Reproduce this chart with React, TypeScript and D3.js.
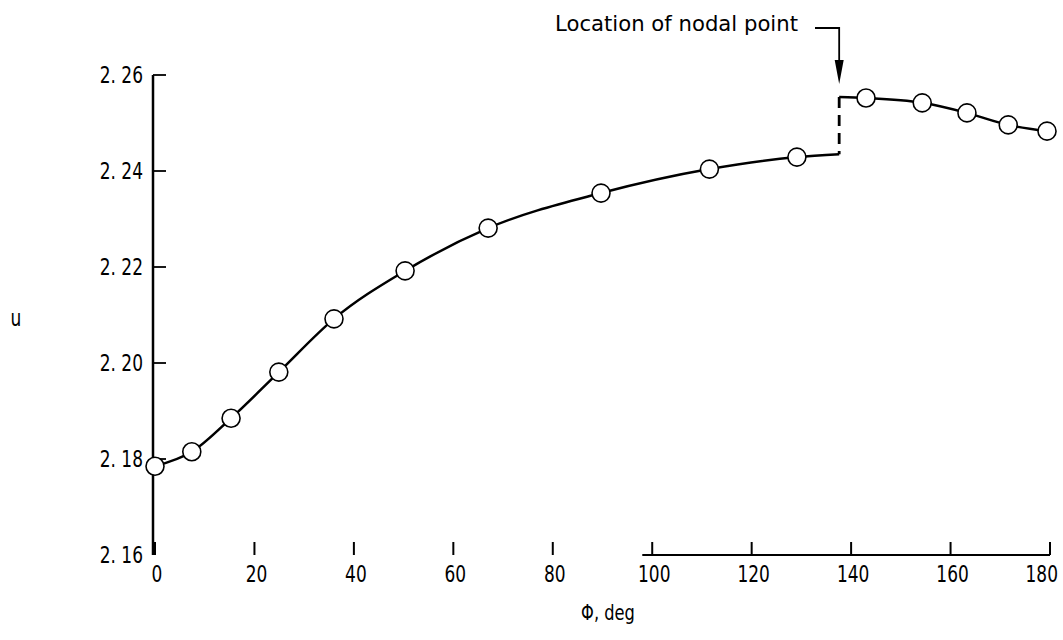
import React from "react";
import * as d3 from "d3";

// Φ (deg) and u readings before the nodal point
const phiBefore = [0, 7.4, 15.3, 24.9, 36.0, 50.3, 67.0, 89.7, 111.5, 129.1];
const uBefore = [2.1785, 2.1815, 2.1885, 2.1981, 2.2092, 2.2192, 2.2281, 2.2354, 2.2404, 2.2429];

// Φ (deg) and u readings after the nodal point
const phiAfter = [143.0, 154.3, 163.3, 171.6, 179.4];
const uAfter = [2.2552, 2.2542, 2.2521, 2.2496, 2.2483];

// nodal point location and the two curve ends meeting there
const nodalPhi = 137.6;
const nodalLow = 2.2435;
const nodalHigh = 2.2554;

const xTicks = [0, 20, 40, 60, 80, 100, 120, 140, 160, 180];
const yTicks = [2.16, 2.18, 2.2, 2.22, 2.24, 2.26];

const FONT = "'DejaVu Sans', sans-serif";
const SQUEEZE = 0.74;

// Condensed text: glyphs squeezed horizontally around the anchor point
function CText({
  x,
  y,
  size,
  anchor = "start",
  children,
}: {
  x: number;
  y: number;
  size: number;
  anchor?: "start" | "middle" | "end";
  children: React.ReactNode;
}) {
  return (
    <text
      transform={`translate(${x},${y}) scale(${SQUEEZE},1)`}
      textAnchor={anchor}
      fontFamily={FONT}
      fontSize={size}
      fill="#000"
    >
      {children}
    </text>
  );
}

export default function App() {
  const W = 1063;
  const H = 640;
  const x = d3.scaleLinear().domain([0, 180]).range([155, 1050]);
  const y = d3.scaleLinear().domain([2.16, 2.26]).range([555, 75]);

  const before: [number, number][] = phiBefore.map((p, i) => [p, uBefore[i]]);
  const after: [number, number][] = phiAfter.map((p, i) => [p, uAfter[i]]);

  const line = d3
    .line<[number, number]>()
    .x((d) => x(d[0]))
    .y((d) => y(d[1]))
    .curve(d3.curveMonotoneX);

  const lowerPath = line([...before, [nodalPhi, nodalLow]]) || "";
  const upperPath = line([[nodalPhi, nodalHigh], ...after]) || "";

  const xAxisLineStart = 98;
  const nx = x(nodalPhi);
  const lastTick = xTicks[xTicks.length - 1];

  return (
    <svg width={W} height={H} style={{ display: "block", position: "absolute", left: 0, top: 0, background: "#fff" }}>
      {/* y axis */}
      <line x1={153} x2={153} y1={y(2.26)} y2={y(2.16)} stroke="#000" strokeWidth={2.5} />
      {yTicks.map((t) => (
        <g key={t}>
          {t !== 2.16 && <line x1={153} x2={166} y1={y(t)} y2={y(t)} stroke="#000" strokeWidth={1.8} />}
          <CText x={143} y={y(t) + 8} size={23} anchor="end">
            {t.toFixed(2).replace(".", ". ")}
          </CText>
        </g>
      ))}

      {/* x axis */}
      <line x1={x(xAxisLineStart)} x2={x(180)} y1={555} y2={555} stroke="#000" strokeWidth={1.8} />
      {xTicks.map((t) => (
        <g key={t}>
          <line x1={x(t)} x2={x(t)} y1={542} y2={555} stroke="#000" strokeWidth={2} />
          {t === lastTick ? (
            <CText x={1058} y={582} size={23} anchor="end">
              {t}
            </CText>
          ) : (
            <CText x={x(t) + 2} y={582} size={23} anchor="middle">
              {t}
            </CText>
          )}
        </g>
      ))}

      {/* axis titles */}
      <CText x={608} y={620} size={22} anchor="middle">
        Φ, deg
      </CText>
      <CText x={16} y={326} size={23} anchor="middle">
        u
      </CText>

      {/* curves */}
      <path d={lowerPath} fill="none" stroke="#000" strokeWidth={2.5} />
      <path d={upperPath} fill="none" stroke="#000" strokeWidth={2.5} />
      <line
        x1={nx}
        x2={nx}
        y1={y(nodalHigh)}
        y2={y(nodalLow)}
        stroke="#000"
        strokeWidth={2.8}
        strokeDasharray="11,7"
      />

      {/* data circles */}
      {[...before, ...after].map((d, i) => (
        <circle key={i} cx={x(d[0])} cy={y(d[1])} r={9} fill="#fff" stroke="#000" strokeWidth={1.6} />
      ))}

      {/* nodal point annotation */}
      <text
        x={555}
        y={31}
        fontFamily={FONT}
        fontSize={22}
        fill="#000"
        textLength={243}
        lengthAdjust="spacingAndGlyphs"
      >
        Location of nodal point
      </text>
      <path d={`M ${815} 28 L ${nx} 28 L ${nx} 62`} fill="none" stroke="#000" strokeWidth={1.8} />
      <path d={`M ${nx - 4.5} 60 L ${nx + 4.5} 60 L ${nx} 84 Z`} fill="#000" />
    </svg>
  );
}
